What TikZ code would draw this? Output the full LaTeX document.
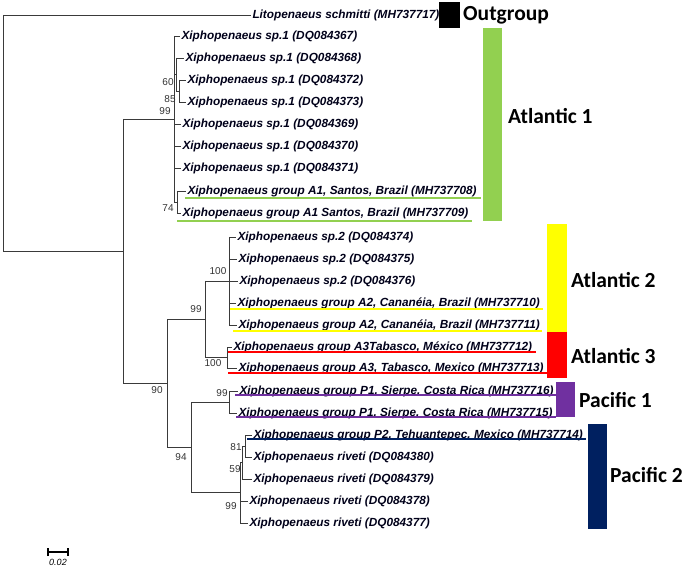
\documentclass[tikz,border=0pt]{standalone}
\usepackage{fontspec}
\setmainfont{Liberation Sans}
\newfontfamily\grpfont{Carlito}
\definecolor{cgreen}{HTML}{92D050}
\definecolor{cyellow}{HTML}{FFFF00}
\definecolor{cred}{HTML}{FF0000}
\definecolor{cpurple}{HTML}{7030A0}
\definecolor{cnavy}{HTML}{002060}
\definecolor{treecol}{HTML}{3A3A3A}
\tikzset{
  leaf/.style={anchor=west, inner sep=0pt, outer sep=1.5pt, font=\bfseries\itshape\fontsize{11.8}{12}\selectfont, text=black!90!blue},
  boot/.style={inner sep=0pt, font=\fontsize{10}{10}\selectfont, text=black!80},
  branch/.style={draw=treecol, line width=0.8pt},
  grplabel/.style={anchor=west, inner sep=0pt, font=\grpfont\bfseries\fontsize{21.5}{22}\selectfont},
  uline/.style={line width=2.6pt},
}
\begin{document}
\begin{tikzpicture}[x=1pt,y=-1pt]
\useasboundingbox (0,0) rectangle (685,569);
% leaves
\node[leaf] (l0) at (251,15) {Litopenaeus schmitti (MH737717)};
\node[leaf] (l1) at (180,36) {Xiphopenaeus sp.1 (DQ084367)};
\node[leaf] (l2) at (184,58) {Xiphopenaeus sp.1 (DQ084368)};
\node[leaf] (l3) at (186,80) {Xiphopenaeus sp.1 (DQ084372)};
\node[leaf] (l4) at (186,102) {Xiphopenaeus sp.1 (DQ084373)};
\node[leaf] (l5) at (181,124) {Xiphopenaeus sp.1 (DQ084369)};
\node[leaf] (l6) at (181,146) {Xiphopenaeus sp.1 (DQ084370)};
\node[leaf] (l7) at (181,168) {Xiphopenaeus sp.1 (DQ084371)};
\node[leaf] (l8) at (186,191) {Xiphopenaeus group A1, Santos, Brazil (MH737708)};
\node[leaf] (l9) at (181,213) {Xiphopenaeus group A1 Santos, Brazil (MH737709)};
\node[leaf] (l10) at (236,237) {Xiphopenaeus sp.2 (DQ084374)};
\node[leaf] (l11) at (237,259) {Xiphopenaeus sp.2 (DQ084375)};
\node[leaf] (l12) at (238,281) {Xiphopenaeus sp.2 (DQ084376)};
\node[leaf] (l13) at (236,303) {Xiphopenaeus group A2, Cananéia, Brazil (MH737710)};
\node[leaf] (l14) at (237,325) {Xiphopenaeus group A2, Cananéia, Brazil (MH737711)};
\node[leaf] (l15) at (232,347) {Xiphopenaeus group A3Tabasco, México (MH737712)};
\node[leaf] (l16) at (237,368) {Xiphopenaeus group A3, Tabasco, Mexico (MH737713)};
\node[leaf] (l17) at (238,391) {Xiphopenaeus group P1, Sierpe, Costa Rica (MH737716)};
\node[leaf] (l18) at (237,413) {Xiphopenaeus group P1, Sierpe, Costa Rica (MH737715)};
\node[leaf] (l19) at (252,435) {Xiphopenaeus group P2, Tehuantepec, Mexico (MH737714)};
\node[leaf] (l20) at (252,457) {Xiphopenaeus riveti (DQ084380)};
\node[leaf] (l21) at (252,479) {Xiphopenaeus riveti (DQ084379)};
\node[leaf] (l22) at (248,501) {Xiphopenaeus riveti (DQ084378)};
\node[leaf] (l23) at (248,523) {Xiphopenaeus riveti (DQ084377)};
% internal nodes
\coordinate (root) at (3,15);
\coordinate (nA) at (123,251.1);
\coordinate (n99a) at (174,119);
\coordinate (n60) at (176,74.5);
\coordinate (n85) at (179,91);
\coordinate (n74) at (177,202);
\coordinate (n90) at (167,383.2);
\coordinate (n99b) at (205,319);
\coordinate (n100a) at (229,281);
\coordinate (n100b) at (227,357.5);
\coordinate (n94) at (191,447.4);
\coordinate (n99c) at (229,402);
\coordinate (n99d) at (240,492.75);
\coordinate (n59) at (242,462.5);
\coordinate (n81) at (245,446);
% underlines
\draw[uline,cgreen] (185,198) -- ([xshift=3pt]l8.east |- 0,198);
\draw[uline,cgreen] (177,221) -- ([xshift=2pt]l9.east |- 0,221);
\draw[uline,cyellow] (229,309) -- ([xshift=2pt]l13.east |- 0,309);
\draw[uline,cyellow] (233,331) -- ([xshift=1pt]l14.east |- 0,331);
\draw[uline,cred] (228,352) -- ([xshift=2pt]l15.east |- 0,352);
\draw[uline,cred] (228,373) -- ([xshift=2pt]l16.east |- 0,373);
\draw[uline,cpurple] (235,395) -- ([xshift=2pt]l17.east |- 0,395);
\draw[uline,cpurple] (236,417) -- ([xshift=2pt]l18.east |- 0,417);
\draw[uline,cnavy] (247,439) -- ([xshift=2pt]l19.east |- 0,439);
% tree
\draw[branch] (root |- l0) -- (l0.west);
\draw[branch] (root) -- (root |- nA) -- (nA);
\draw[branch] (nA |- n99a) -- (nA |- n90);
\draw[branch] (nA |- n99a) -- (n99a);
\draw[branch] (n99a |- l1) -- (n99a |- n74);
\draw[branch] (n99a |- l1) -- (l1.west);
\draw[branch] (n99a |- n60) -- (n60);
\draw[branch] (n60 |- l2) -- (n60 |- n85);
\draw[branch] (n60 |- l2) -- (l2.west);
\draw[branch] (n60 |- n85) -- (n85);
\draw[branch] (n85 |- l3) -- (n85 |- l4);
\draw[branch] (n85 |- l3) -- (l3.west);
\draw[branch] (n85 |- l4) -- (l4.west);
\draw[branch] (n99a |- l5) -- (l5.west);
\draw[branch] (n99a |- l6) -- (l6.west);
\draw[branch] (n99a |- l7) -- (l7.west);
\draw[branch] (n99a |- n74) -- (n74);
\draw[branch] (n74 |- l8) -- (n74 |- l9);
\draw[branch] (n74 |- l8) -- (l8.west);
\draw[branch] (n74 |- l9) -- (l9.west);
\draw[branch] (nA |- n90) -- (n90);
\draw[branch] (n90 |- n99b) -- (n90 |- n94);
\draw[branch] (n90 |- n99b) -- (n99b);
\draw[branch] (n99b |- n100a) -- (n99b |- n100b);
\draw[branch] (n99b |- n100a) -- (n100a);
\draw[branch] (n99b |- n100b) -- (n100b);
\draw[branch] (n100a |- l10) -- (n100a |- l14);
\foreach \l in {l10,l11,l12,l13,l14} \draw[branch] (n100a |- \l) -- (\l.west);
\draw[branch] (n100b |- l15) -- (n100b |- l16);
\foreach \l in {l15,l16} \draw[branch] (n100b |- \l) -- (\l.west);
\draw[branch] (n90 |- n94) -- (n94);
\draw[branch] (n94 |- n99c) -- (n94 |- n99d);
\draw[branch] (n94 |- n99c) -- (n99c);
\draw[branch] (n99c |- l17) -- (n99c |- l18);
\foreach \l in {l17,l18} \draw[branch] (n99c |- \l) -- (\l.west);
\draw[branch] (n94 |- n99d) -- (n99d);
\draw[branch] (n99d |- n59) -- (n99d |- l23);
\draw[branch] (n99d |- n59) -- (n59);
\foreach \l in {l22,l23} \draw[branch] (n99d |- \l) -- (\l.west);
\draw[branch] (n59 |- n81) -- (n59 |- l21);
\draw[branch] (n59 |- n81) -- (n81);
\draw[branch] (n59 |- l21) -- (l21.west);
\draw[branch] (n81 |- l19) -- (n81 |- l20);
\foreach \l in {l19,l20} \draw[branch] (n81 |- \l) -- (\l.west);
% bootstrap values
\node[boot] (b60) at (168,82) {60};
\node[boot] (b85) at (170,99) {85};
\node[boot] (b99a) at (165,111) {99};
\node[boot] (b74) at (168,208) {74};
\node[boot] (b100a) at (218,271) {100};
\node[boot] (b99b) at (196,309) {99};
\node[boot] (b100b) at (213,363) {100};
\node[boot] (b90) at (157,390) {90};
\node[boot] (b99c) at (222,393) {99};
\node[boot] (b94) at (181,457) {94};
\node[boot] (b81) at (236,447) {81};
\node[boot] (b59) at (235,469) {59};
\node[boot] (b99d) at (231,506) {99};
% group bars
\fill[black] (439,2) rectangle (460,28);
\fill[cgreen] (483,28) rectangle (502,221);
\fill[cyellow] (547,224) rectangle (567,332);
\fill[cred] (547,332) rectangle (567,378);
\fill[cpurple] (556,382) rectangle (575,417);
\fill[cnavy] (588,424) rectangle (607,529);
\node[grplabel] (g0) at (463,15) {Outgroup};
\node[grplabel] (g1) at (508,116) {Atlantic 1};
\node[grplabel] (g2) at (571,280) {Atlantic 2};
\node[grplabel] (g3) at (571,356) {Atlantic 3};
\node[grplabel] (g4) at (579,400) {Pacific 1};
\node[grplabel] (g5) at (610,475) {Pacific 2};
% scale bar
\coordinate (s1) at (48,552);
\coordinate (s2) at (68,552);
\draw[line width=1.2pt] (s1) -- (s2);
\draw[line width=1.2pt] ([yshift=-4]s1) -- ([yshift=4]s1);
\draw[line width=1.2pt] ([yshift=-4]s2) -- ([yshift=4]s2);
\node[inner sep=0pt, font=\itshape\fontsize{9}{9}\selectfont] (sl) at (58,562) {0.02};
\end{tikzpicture}
\end{document}
